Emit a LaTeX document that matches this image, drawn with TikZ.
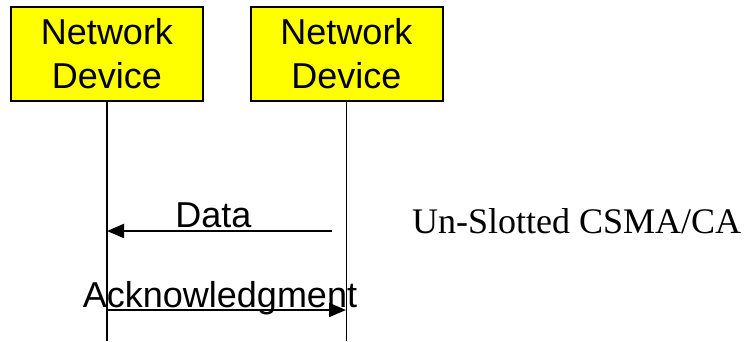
\documentclass[tikz,border=0pt]{standalone}
\usepackage{fontspec}
\setmainfont{Liberation Serif}
\newfontfamily\arialfont{Liberation Sans}
\usetikzlibrary{arrows.meta}
\definecolor{boxyellow}{RGB}{255,255,0}
\tikzset{
  device/.style={draw=black, fill=boxyellow, line width=2pt, minimum width=192pt, minimum height=94pt, inner sep=0pt, align=center, font=\arialfont\fontsize{36}{44}\selectfont},
  lifeline/.style={line width=1.5pt},
  msg/.style={line width=2pt, -{Triangle[length=17pt,width=14pt]}},
  msglabel/.style={anchor=base, inner sep=0pt, font=\arialfont\fontsize{36}{44}\selectfont},
  sidelabel/.style={anchor=base west, inner sep=0pt, font=\fontsize{36}{44}\selectfont}
}
\begin{document}
\begin{tikzpicture}[x=1pt,y=1pt]
\useasboundingbox (0,0) rectangle (753,-341);
\node[device] (devL) at (107,-54) {Network\\Device};
\node[device] (devR) at (346.5,-54) {Network\\Device};
\coordinate (endL) at (107,-341);
\coordinate (endR) at (346.5,-341);
\draw[lifeline] (devL.south) -- (endL);
\draw[lifeline] (devR.south) -- (endR);
\coordinate (dS) at (332,-231);
\coordinate (dE) at (107,-231);
\coordinate (aS) at (107,-310);
\coordinate (aE) at (346,-310);
\draw[msg] (dS) -- (dE);
\draw[msg] (aS) -- (aE);
\node[msglabel] (dataLbl) at (213.5,-227) {Data};
\node[msglabel] (ackLbl) at (220,-307) {Acknowledgment};
\node[sidelabel] (csma) at (412,-233) {Un-Slotted CSMA/CA};
\end{tikzpicture}
\end{document}
